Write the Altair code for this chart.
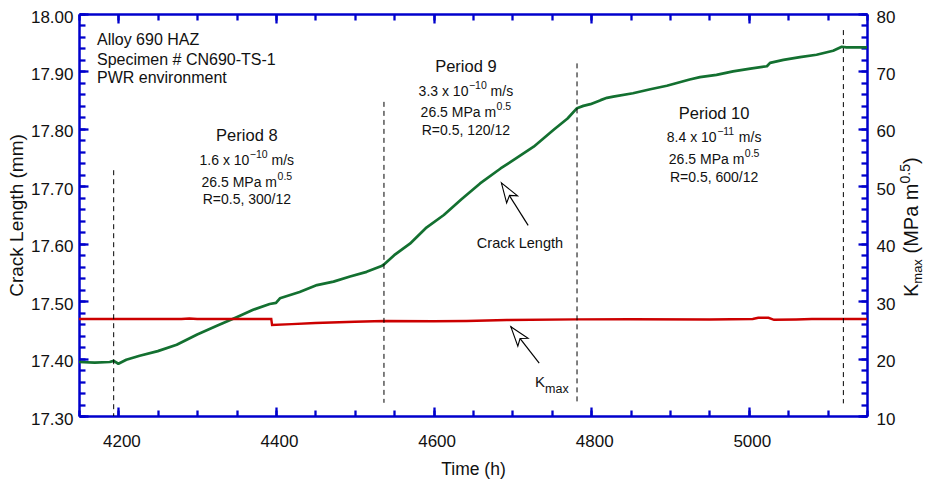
import altair as alt
import pandas as pd

# ---------------- data ----------------
time_crack = [4150, 4170, 4189, 4194, 4200, 4210, 4227, 4250, 4274, 4300, 4325, 4350, 4371, 4392, 4400,
              4405, 4430, 4452, 4473, 4494, 4515, 4534, 4537, 4550, 4570, 4590, 4613, 4635, 4659, 4685,
              4705, 4727, 4752, 4770, 4782, 4790, 4799, 4812, 4820, 4828, 4853, 4875, 4896, 4925, 4938,
              4959, 4980, 5002, 5023, 5027, 5044, 5065, 5086, 5107, 5118, 5124, 5150]
crack_mm = [17.394, 17.393, 17.394, 17.396, 17.391, 17.398, 17.405, 17.413, 17.424, 17.442, 17.457, 17.472,
            17.485, 17.495, 17.497, 17.505, 17.516, 17.528, 17.534, 17.543, 17.551, 17.561, 17.564, 17.580,
            17.600, 17.627, 17.650, 17.677, 17.705, 17.731, 17.749, 17.769, 17.798, 17.818, 17.836, 17.840,
            17.843, 17.850, 17.854, 17.856, 17.862, 17.869, 17.875, 17.886, 17.890, 17.894, 17.900, 17.905,
            17.909, 17.915, 17.920, 17.925, 17.929, 17.936, 17.943, 17.942, 17.942]

time_kmax = [4150, 4280, 4290, 4300, 4394, 4395, 4420, 4450, 4500, 4537, 4600, 4642, 4693, 4782, 4850,
             4950, 5005, 5012, 5025, 5032, 5060, 5080, 5150]
kmax = [26.89, 26.89, 26.97, 26.89, 26.89, 25.85, 26.0, 26.2, 26.4, 26.54, 26.5, 26.54, 26.72, 26.83, 26.85,
        26.8, 26.89, 27.1, 27.1, 26.75, 26.8, 26.89, 26.89]

period_change_t = [4194, 4537, 4782, 5120]
period_line_top = [17.728, 17.847, 17.914, 17.972]
period_line_bottom = [17.30, 17.323, 17.323, 17.322]

x_major = [4200, 4400, 4600, 4800, 5000]
x_minor = [4150 + 50 * i for i in range(21)]
y_crack_labels = [17.30, 17.40, 17.50, 17.60, 17.70, 17.80, 17.90, 18.00]
y_crack_minor = [round(17.30 + 0.02 * i, 2) for i in range(36)]
k_labels = [10, 20, 30, 40, 50, 60, 70, 80]

info_lines = ["Alloy 690 HAZ", "Specimen # CN690-TS-1", "PWR environment"]
period_names = ["Period 8", "Period 9", "Period 10"]
rate_mantissa = ["1.6 x 10", "3.3 x 10", "8.4 x 10"]
rate_exponent = ["\u221210", "\u221210", "\u221211"]
rate_unit = "m/s"
stress_text = "26.5 MPa m"
stress_exponent = "0.5"
ratio_text = ["R=0.5, 300/12", "R=0.5, 120/12", "R=0.5, 600/12"]

# ---------------- layout / style ----------------
W, H = 788, 402
FONT = "Liberation Sans"
BLUE = "#0000cc"
GREEN = "#137030"
RED = "#cc0000"
TXT = "#111111"

XS = alt.Scale(domain=[4150, 5150], nice=False, zero=False)
YC = alt.Scale(domain=[17.30, 18.00], nice=False, zero=False)
YK = alt.Scale(domain=[10, 80], nice=False, zero=False)

CW = {c: 0.556 for c in "0123456789"}
CW.update({".": .278, " ": .278, "x": .5, "m": .833, "/": .278, "s": .5, "M": .833, "P": .667,
           "a": .556, "R": .722, "=": .584, ",": .278, "\u2212": .584, "(": .333, ")": .333, "K": .667})


def tw(s, size):
    return sum(CW.get(ch, .556) for ch in s) * size


def Xq(field, axis=None):
    return alt.X(field, type="quantitative", scale=XS, axis=axis)


def Yc(field, axis=None):
    return alt.Y(field, type="quantitative", scale=YC, axis=axis)


def text_piece(t, c, label, size, align="left", dx=0, dy=0, baseline="middle"):
    df = pd.DataFrame({"t": [t], "c": [c], "label": [label]})
    return alt.Chart(df).mark_text(align=align, baseline=baseline, dx=dx, dy=dy, fontSize=size,
                                   font=FONT, color=TXT).encode(x=Xq("t"), y=Yc("c"), text="label:N")


def centered_line(t, c, pieces):
    total = sum(gap + tw(txt, size) for txt, size, dy, gap in pieces)
    cur = -total / 2
    out = []
    for txt, size, dy, gap in pieces:
        cur += gap
        out.append(text_piece(t, c, txt, size, "left", dx=round(cur, 1), dy=dy))
        cur += tw(txt, size)
    return out


crack_df = pd.DataFrame({"t": time_crack, "c": crack_mm})
k_df = pd.DataFrame({"t": time_kmax, "k": kmax})
per_df = pd.DataFrame({"t": period_change_t, "top": period_line_top, "bottom": period_line_bottom})

layers = []

# main crack-length line with bottom/left labelled axes
layers.append(alt.Chart(crack_df).mark_line(color=GREEN, strokeWidth=2.7, strokeJoin="round").encode(
    x=Xq("t", alt.Axis(orient="bottom", values=x_major, format="d", ticks=False, labelPadding=17,
                       labelOffset=3, labelFontSize=17, labelFont=FONT, labelColor=TXT, labelFlush=False,
                       domainColor=BLUE, domainWidth=2.5, grid=False, title="Time (h)", titleFont=FONT,
                       titleFontSize=17.5, titleFontWeight="normal", titleColor=TXT, titleY=44)),
    y=Yc("c", alt.Axis(orient="left", values=y_crack_labels, format=".2f", ticks=False, labelPadding=6,
                       labelOffset=3, labelFontSize=17, labelFont=FONT, labelColor=TXT, labelFlush=False,
                       domainColor=BLUE, domainWidth=2.5, grid=False, title="Crack Length (mm)",
                       titleFont=FONT, titleFontSize=19, titleFontWeight="normal", titleColor=TXT,
                       titleX=-63, titleBaseline="middle")),
))

# Kmax line with right labelled axis
layers.append(alt.Chart(k_df).mark_line(color=RED, strokeWidth=2.4).encode(
    x=Xq("t"),
    y=alt.Y("k:Q", scale=YK, axis=alt.Axis(orient="right", values=k_labels, format="d", ticks=False,
                                           labelPadding=9, labelOffset=3, labelFontSize=17, labelFont=FONT,
                                           labelColor=TXT, labelFlush=False, domainColor=BLUE,
                                           domainWidth=2.5, grid=False, title="")),
))


# inward tick axes (hidden marks carrying axes)
def tick_layer(x_orient, y_orient, xvals, yvals, size, domain=False):
    ax = alt.Axis(orient=x_orient, offset=-H, values=xvals, labels=False, domain=domain, domainColor=BLUE,
                  domainWidth=2.5, tickColor=BLUE, tickWidth=2.3, tickSize=size, grid=False, title="")
    ay = alt.Axis(orient=y_orient, offset=-W, values=yvals, labels=False, domain=False,
                  tickColor=BLUE, tickWidth=2.3, tickSize=size, grid=False, title="")
    return alt.Chart(crack_df).mark_line(strokeOpacity=0).encode(x=Xq("t", ax), y=Yc("c", ay))


layers.append(tick_layer("top", "right", x_minor, y_crack_minor, 6))
layers.append(tick_layer("top", "right", x_major, y_crack_labels, 9))
layers.append(tick_layer("bottom", "left", x_minor, y_crack_minor, 6, domain=True))
layers.append(tick_layer("bottom", "left", x_major, y_crack_labels, 9))

# period boundaries
layers.append(alt.Chart(per_df).mark_rule(color="black", strokeWidth=1, strokeDash=[5, 4]).encode(
    x=Xq("t"), y=Yc("top"), y2="bottom"))

# arrows
ARROW = "M0,0 L0.33,1 L0,0.76 L-0.33,1 Z"
arrow_df = pd.DataFrame({"t0": [4720, 4734], "c0": [17.632, 17.392],
                         "t1": [4686, 4698], "c1": [17.706, 17.4555]})
layers.append(alt.Chart(arrow_df).mark_rule(color="black", strokeWidth=1.2).encode(
    x=Xq("t0"), x2="t1", y=Yc("c0"), y2="c1"))
for i, ang in enumerate([327, 322]):
    layers.append(alt.Chart(arrow_df.iloc[[i]]).mark_point(
        shape=ARROW, size=1550, angle=ang, filled=True, fill="white", stroke="black", strokeWidth=1.1,
        opacity=1).encode(x=Xq("t1"), y=Yc("c1")))

# info block (top left)
for txt, c in zip(info_lines, [17.9547, 17.920, 17.8886]):
    layers.append(text_piece(4172.8, c, txt, 16))

# period blocks
block_t = [4363, 4641, 4956]
block_y = [[17.787, 17.744, 17.705, 17.676],
           [17.907, 17.865, 17.828, 17.797],
           [17.8255, 17.7836, 17.745, 17.714]]
for i in range(3):
    t = block_t[i]
    yy = block_y[i]
    layers.append(text_piece(t, yy[0], period_names[i], 16.5, align="center"))
    layers += centered_line(t, yy[1], [(rate_mantissa[i], 14, 0, 0), (rate_exponent[i], 10.5, -6, 0.5),
                                       (rate_unit, 14, 0, 3.9)])
    layers += centered_line(t, yy[2], [(stress_text, 14, 0, 0), (stress_exponent, 10.5, -6, 0.5)])
    layers.append(text_piece(t, yy[3], ratio_text[i], 14, align="center"))

# series labels
layers.append(text_piece(4709.6, 17.5995, "Crack Length", 14.5, align="center"))
layers.append(text_piece(4728.7, 17.351, "K", 15, baseline="alphabetic"))
layers.append(text_piece(4728.7, 17.351, "max", 12.5, dx=10, dy=6, baseline="alphabetic"))

# right axis title  K_max (MPa m^0.5), rotated
title_pieces = [("K", 20, 0, 0), ("max", 13, 4, 0), ("(MPa m", 20, 0, 5.6), ("0.5", 14, -8, 0), (")", 20, 0, 0)]
cur = 0
for txt, size, dy, gap in title_pieces:
    cur += gap
    df = pd.DataFrame({"label": [txt]})
    layers.append(alt.Chart(df).mark_text(angle=270, align="left", baseline="alphabetic", dx=round(cur, 1),
                                          dy=dy, fontSize=size, font=FONT, color=TXT).encode(
        x=alt.value(W + 51), y=alt.value(283), text="label:N"))
    cur += tw(txt, size)

chart = alt.layer(*layers).resolve_scale(y="independent").resolve_axis(
    x="independent", y="independent").properties(
    width=W, height=H, autosize=alt.AutoSizeParams(type="none"),
    padding={"left": 79, "top": 14, "right": 925 - 79 - W, "bottom": 482 - 14 - H},
    background="white",
).configure_view(stroke="transparent").configure(font=FONT)

chart.save("out.html", embed_options={"renderer": "svg", "actions": False})
